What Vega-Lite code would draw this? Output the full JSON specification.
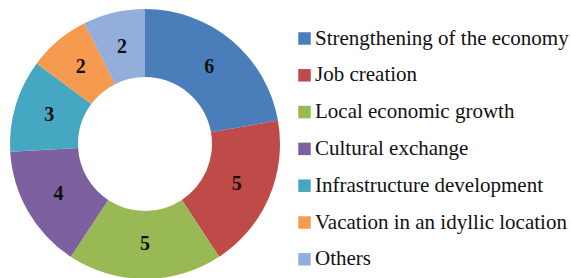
{
  "$schema": "https://vega.github.io/schema/vega-lite/v6.json",
  "width": 290,
  "height": 278,
  "autosize": "none",
  "padding": {"left": 0, "top": 5, "right": 281, "bottom": 0},
  "background": "white",
  "data": {
    "values": [
      {"idx": 1, "category": "Strengthening of the economy", "count": 6},
      {"idx": 2, "category": "Job creation", "count": 5},
      {"idx": 3, "category": "Local economic growth", "count": 5},
      {"idx": 4, "category": "Cultural exchange", "count": 4},
      {"idx": 5, "category": "Infrastructure development", "count": 3},
      {"idx": 6, "category": "Vacation in an idyllic location", "count": 2},
      {"idx": 7, "category": "Others", "count": 2}
    ]
  },
  "encoding": {
    "theta": {"field": "count", "type": "quantitative", "stack": true},
    "order": {"field": "idx", "type": "quantitative"}
  },
  "layer": [
    {
      "mark": {"type": "arc", "outerRadius": 135, "innerRadius": 67},
      "encoding": {
        "color": {
          "field": "category",
          "type": "nominal",
          "sort": ["Strengthening of the economy", "Job creation", "Local economic growth", "Cultural exchange", "Infrastructure development", "Vacation in an idyllic location", "Others"],
          "scale": {
            "domain": ["Strengthening of the economy", "Job creation", "Local economic growth", "Cultural exchange", "Infrastructure development", "Vacation in an idyllic location", "Others"],
            "range": ["#4A7EBB", "#BE4B48", "#98B954", "#7D60A0", "#46A7C2", "#F59A4E", "#93AEDB"]
          },
          "legend": {
            "title": null,
            "orient": "none",
            "legendX": 294,
            "legendY": 23,
            "padding": 0,
            "symbolType": "square",
            "symbolSize": 156,
            "symbolStrokeWidth": 0,
            "labelFont": "Liberation Serif",
            "labelFontSize": 21,
            "labelColor": "#111111",
            "labelOffset": 0,
            "labelLimit": 300,
            "rowPadding": 14.8
          }
        }
      }
    },
    {
      "mark": {"type": "text", "radius": 100, "font": "Liberation Serif", "fontSize": 20, "fontWeight": "bold", "color": "#111111"},
      "encoding": {
        "text": {"field": "count", "type": "quantitative"}
      }
    }
  ]
}
